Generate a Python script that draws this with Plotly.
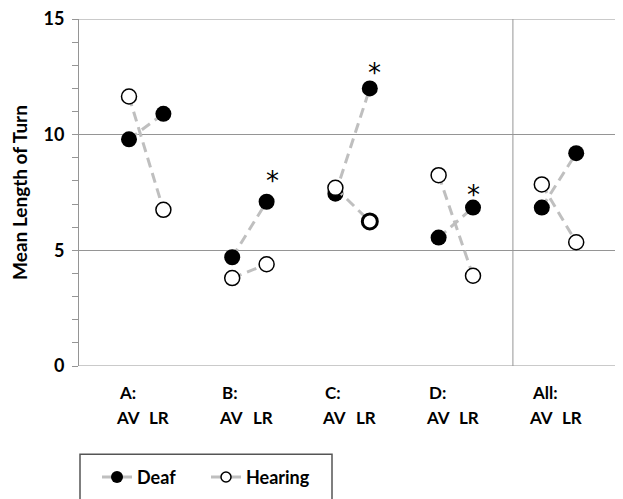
import plotly.graph_objects as go

groups = ["A:", "B:", "C:", "D:", "All:"]
conditions = ["AV", "LR"]
deaf_av = [9.8, 4.7, 7.45, 5.55, 6.85]
deaf_lr = [10.9, 7.1, 12.0, 6.85, 9.2]
hearing_av = [11.65, 3.8, 7.7, 8.25, 7.85]
hearing_lr = [6.75, 4.4, 6.25, 3.9, 5.35]
significant = [False, True, True, True, False]  # asterisk above Deaf LR
y_ticks = [0, 5, 10, 15]

FONT = "Lato"
GRID = "#959595"
LINE_GRAY = "#bfbfbf"
OFF = 8  # page body margin compensation

L, T = 79 - OFF, 19 - OFF
PW, PH = 544, 347.5

# asterisk placement offsets (pixels) relative to the Deaf LR marker
star_dx = [0, 6, 5, 0, 0]
star_dy = [0, 21, 15, 13, 0]

def xpos(i, c):
    return 3 * i + 1 + c

def seg(av, lr):
    xs, ys = [], []
    for i in range(len(groups)):
        xs += [xpos(i, 0), xpos(i, 1), None]
        ys += [av[i], lr[i], None]
    return xs, ys

def px_x(px):
    return (px - 79) / PW

def px_y(py):
    return (366.5 - py) / PH

fig = go.Figure()
dx, dy = seg(deaf_av, deaf_lr)
fig.add_trace(go.Scatter(x=dx, y=dy, mode="lines+markers", showlegend=False,
                         line=dict(color=LINE_GRAY, width=3, dash="10px,6px"),
                         marker=dict(size=16, color="black", line=dict(width=0))))
hx, hy = seg(hearing_av, hearing_lr)
h_lw = [1.5] * len(hx)
h_lw[3 * 2 + 1] = 3  # the bolder ring at C: LR
fig.add_trace(go.Scatter(x=hx, y=hy, mode="lines+markers", showlegend=False,
                         line=dict(color=LINE_GRAY, width=3, dash="10px,6px"),
                         marker=dict(size=15, color="white", line=dict(width=h_lw, color="black"))))
# legend entries
fig.add_trace(go.Scatter(x=[None], y=[None], mode="lines+markers", name="Deaf",
                         line=dict(color=LINE_GRAY, width=3),
                         marker=dict(size=12, color="black", line=dict(width=0))))
fig.add_trace(go.Scatter(x=[None], y=[None], mode="lines+markers", name="Hearing",
                         line=dict(color=LINE_GRAY, width=3),
                         marker=dict(size=10, color="white", line=dict(width=1.5, color="black"))))

ann = []
for i, g in enumerate(groups):
    ann.append(dict(x=xpos(i, 0), y=px_y(393), xref="x", yref="paper", text=g,
                    showarrow=False, xanchor="left", yanchor="middle", xshift=-12,
                    font=dict(family=FONT, size=17, color="black", weight="bold")))
    ann.append(dict(x=xpos(i, 0), y=px_y(418), xref="x", yref="paper", text=conditions[0],
                    showarrow=False, xanchor="center", yanchor="middle", xshift=-1,
                    font=dict(family=FONT, size=17, color="black", weight="bold")))
    ann.append(dict(x=xpos(i, 1), y=px_y(418), xref="x", yref="paper", text=conditions[1],
                    showarrow=False, xanchor="center", yanchor="middle", xshift=-4,
                    font=dict(family=FONT, size=17, color="black", weight="bold")))
    if significant[i]:
        ann.append(dict(x=xpos(i, 1), y=deaf_lr[i], xref="x", yref="y", text="*",
                        showarrow=False, xanchor="center", yanchor="middle",
                        xshift=star_dx[i], yshift=star_dy[i],
                        font=dict(family="DejaVu Sans", size=26, color="black")))

fig.update_layout(
    width=623, height=499,
    margin=dict(l=L, r=623 - L - PW, t=T, b=499 - T - PH, autoexpand=False),
    plot_bgcolor="white", paper_bgcolor="white",
    font=dict(family=FONT, color="black"),
    xaxis=dict(range=[-0.4535, 15.36], showgrid=False, zeroline=False, showticklabels=False,
               showline=False, ticks="", automargin=False),
    yaxis=dict(range=[0, 15], tickvals=y_ticks, showgrid=True, gridcolor=GRID, gridwidth=1,
               zeroline=False, showline=True, linecolor=GRID, linewidth=1, automargin=False,
               ticks="outside", ticklen=6, tickcolor=GRID, tickwidth=1,
               ticklabeloverflow="allow", ticklabelstandoff=4,
               minor=dict(dtick=1, ticks="outside", ticklen=6, tickcolor=GRID, showgrid=False),
               tickfont=dict(family=FONT, size=18, color="black", weight="bold"),
               title=dict(text="Mean Length of Turn", standoff=13,
                          font=dict(family=FONT, size=19, color="black", weight="bold"))),
    annotations=ann,
    showlegend=True,
    legend=dict(orientation="h", x=px_x(97), y=px_y(478),
                xanchor="left", yanchor="middle", bgcolor="rgba(0,0,0,0)",
                borderwidth=0, entrywidth=64, entrywidthmode="pixels",
                font=dict(family=FONT, size=18, color="black", weight="bold")),
    shapes=[
        dict(type="line", xref="x", yref="y", x0=12.16, x1=12.16, y0=0, y1=15,
             line=dict(color=GRID, width=1)),
        dict(type="line", xref="paper", yref="y", x0=0, x1=1, y0=0, y1=0,
             line=dict(color=GRID, width=1)),
        dict(type="line", xref="paper", yref="y", x0=0, x1=1, y0=15, y1=15,
             line=dict(color=GRID, width=1)),
        dict(type="rect", xref="paper", yref="paper", x0=px_x(80), x1=px_x(332),
             y0=px_y(455), y1=px_y(530),
             line=dict(color="#555555", width=1.5), fillcolor="rgba(0,0,0,0)"),
    ],
)

fig.write_html("out.html")
